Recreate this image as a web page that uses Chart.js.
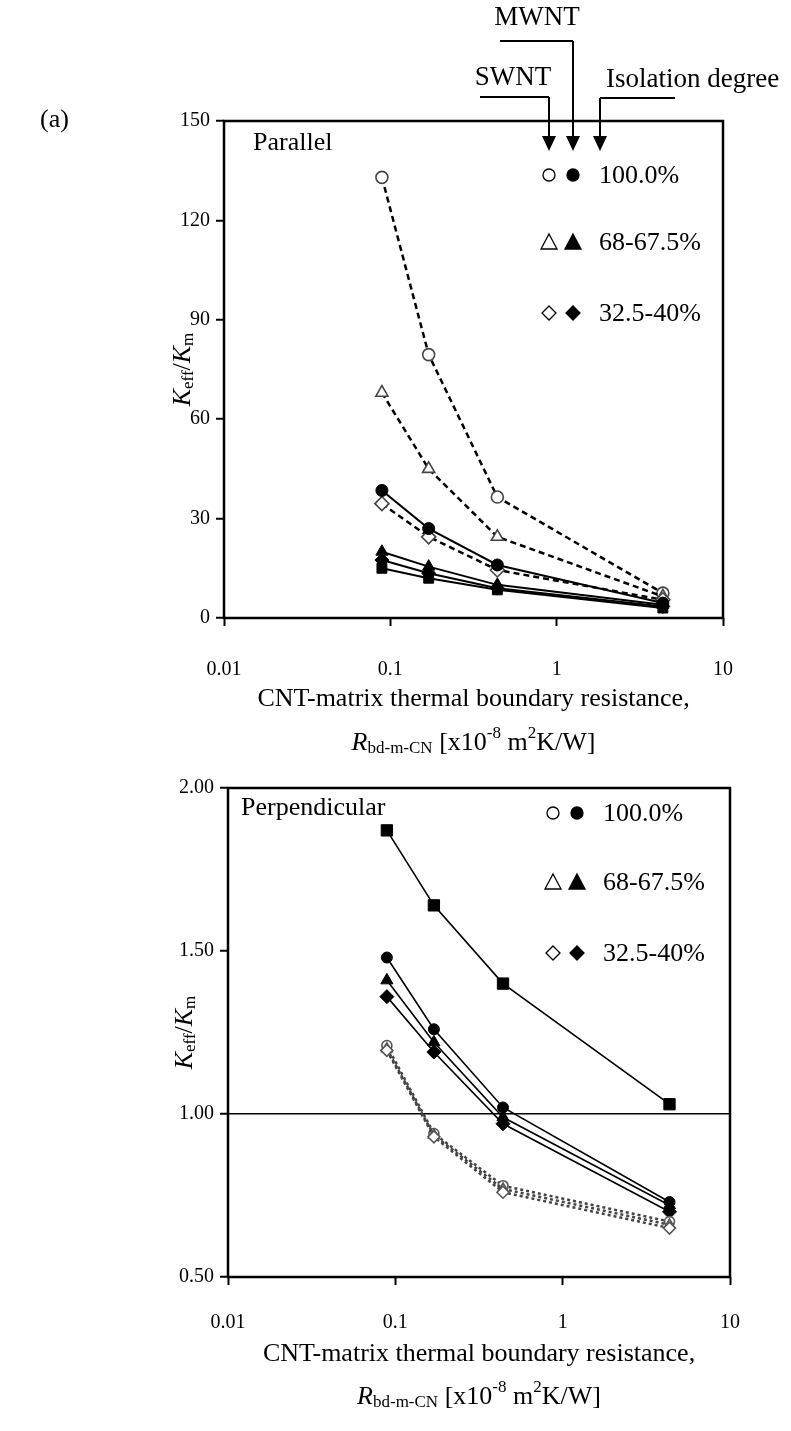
<!DOCTYPE html>
<html>
<head>
<meta charset="utf-8">
<script src="https://cdn.jsdelivr.net/npm/chart.js@4.4.0/dist/chart.umd.min.js"></script>
<style>
  body { margin: 0; background: #fff; }
  #wrap { position: relative; width: 791px; height: 1431px; }
  canvas { position: absolute; left: 0; }
</style>
</head>
<body>
<div id="wrap">
  <canvas id="chTop" width="791" height="770" style="top:0;width:791px;height:770px"></canvas>
  <canvas id="chBot" width="791" height="661" style="top:770px;width:791px;height:661px"></canvas>
</div>
<script>
// thermal boundary resistance values (x10^-8 m2K/W)
var rValues = [0.089, 0.17, 0.44, 4.35];
var xTicks = [0.01, 0.1, 1, 10];
var xTickLabels = ['0.01', '0.1', '1', '10'];

// parallel
var parTicks = [0, 30, 60, 90, 120, 150];
var parTickLabels = ['0', '30', '60', '90', '120', '150'];
var parSwntCircle = [133, 79.5, 36.5, 7.5];
var parSwntTriangle = [68, 45, 24.5, 6.5];
var parSwntDiamond = [34.5, 24.5, 14.5, 5.5];
var parMwntCircle = [38.5, 27, 16, 4.5];
var parMwntTriangle = [20, 15.5, 10, 4];
var parMwntDiamond = [17.5, 13.5, 9, 3.5];
var parMwntSquare = [15, 12, 8.5, 3];

// perpendicular
var perTicks = [0.5, 1.0, 1.5, 2.0];
var perTickLabels = ['0.50', '1.00', '1.50', '2.00'];
var perMwntSquare = [1.87, 1.64, 1.40, 1.03];
var perMwntCircle = [1.48, 1.26, 1.02, 0.73];
var perMwntTriangle = [1.41, 1.22, 0.99, 0.72];
var perMwntDiamond = [1.36, 1.19, 0.97, 0.70];
var perSwntCircle = [1.21, 0.94, 0.78, 0.67];
var perSwntTriangle = [1.20, 0.935, 0.77, 0.66];
var perSwntDiamond = [1.195, 0.93, 0.76, 0.65];

var legendRows = ['100.0%', '68-67.5%', '32.5-40%'];

var SERIF = '"Liberation Serif", "Times New Roman", serif';

function pts(ys) {
  return ys.map(function (y, i) { return { x: rValues[i], y: y }; });
}

function series(ys, style, open, dashed, opt) {
  opt = opt || {};
  return {
    data: pts(ys),
    pointStyle: style,
    pointRadius: opt.r || 6,
    pointBorderWidth: open ? 1.6 : 1,
    pointBackgroundColor: open ? '#fff' : '#000',
    pointBorderColor: open ? (opt.mk || '#444') : '#000',
    borderColor: opt.line || '#000',
    borderWidth: opt.w || 2,
    borderDash: dashed ? (opt.dash || [6, 4]) : [],
    tension: 0,
    fill: false
  };
}

// rich text: parts = [[text, font, dy]]
function richWidth(ctx, parts) {
  var w = 0;
  parts.forEach(function (p) { ctx.font = p[1]; w += ctx.measureText(p[0]).width; });
  return w;
}
function drawRich(ctx, parts, x, y) {
  ctx.textBaseline = 'middle';
  ctx.textAlign = 'left';
  parts.forEach(function (p) {
    ctx.font = p[1];
    ctx.fillText(p[0], x, y + (p[2] || 0));
    x += ctx.measureText(p[0]).width;
  });
}
function drawRichCentered(ctx, parts, cx, cy) {
  drawRich(ctx, parts, cx - richWidth(ctx, parts) / 2, cy);
}

var yTitleParts = [
  ['K', 'italic 26px ' + SERIF, 0],
  ['eff', '17px ' + SERIF, 6],
  ['/', '26px ' + SERIF, 0],
  ['K', 'italic 26px ' + SERIF, 0],
  ['m', '17px ' + SERIF, 6]
];
var xTitle2Parts = [
  ['R', 'italic 26px ' + SERIF, 0],
  ['bd-m-CN', '17px ' + SERIF, 6],
  [' [x10', '26px ' + SERIF, 0],
  ['-8', '17px ' + SERIF, -9],
  [' m', '26px ' + SERIF, 0],
  ['2', '17px ' + SERIF, -9],
  ['K/W]', '26px ' + SERIF, 0]
];

function sym(ctx, kind, x, y, filled) {
  ctx.save();
  ctx.beginPath();
  if (kind === 'circle') {
    ctx.arc(x, y, 6, 0, Math.PI * 2);
  } else if (kind === 'triangle') {
    ctx.moveTo(x, y - 8); ctx.lineTo(x + 8, y + 7); ctx.lineTo(x - 8, y + 7); ctx.closePath();
  } else {
    ctx.moveTo(x, y - 7); ctx.lineTo(x + 7, y); ctx.lineTo(x, y + 7); ctx.lineTo(x - 7, y); ctx.closePath();
  }
  ctx.lineWidth = 1.3;
  ctx.strokeStyle = '#000';
  if (filled) { ctx.fillStyle = '#000'; ctx.fill(); }
  ctx.stroke();
  ctx.restore();
}

function drawLegend(ctx, xOpen, rowsY) {
  var kinds = ['circle', 'triangle', 'diamond'];
  rowsY.forEach(function (y, i) {
    sym(ctx, kinds[i], xOpen, y, false);
    sym(ctx, kinds[i], xOpen + 24, y, true);
    ctx.font = '26px ' + SERIF;
    ctx.fillStyle = '#000';
    ctx.textAlign = 'left';
    ctx.textBaseline = 'middle';
    ctx.fillText(legendRows[i], xOpen + 50, y + 1);
  });
}

function arrowDown(ctx, x, yTop, yTip) {
  ctx.beginPath();
  ctx.moveTo(x, yTop); ctx.lineTo(x, yTip - 14);
  ctx.stroke();
  ctx.beginPath();
  ctx.moveTo(x - 7, yTip - 15); ctx.lineTo(x + 7, yTip - 15); ctx.lineTo(x, yTip); ctx.closePath();
  ctx.fill();
}

function makeBox() {
  return {
    id: 'box',
    beforeDatasetsDraw: function (chart) {
      var a = chart.chartArea, ctx = chart.ctx;
      ctx.save();
      ctx.strokeStyle = '#000';
      ctx.lineWidth = 2.5;
      ctx.strokeRect(a.left, a.top, a.right - a.left, a.bottom - a.top);
      ctx.restore();
    }
  };
}

function makeTexts(cfg) {
  return {
    id: 'texts',
    afterDraw: function (chart) {
      var ctx = chart.ctx, a = chart.chartArea;
      ctx.save();
      ctx.fillStyle = '#000';
      ctx.strokeStyle = '#000';
      // y title
      ctx.save();
      ctx.translate(cfg.yTitleX, (a.top + a.bottom) / 2);
      ctx.rotate(-Math.PI / 2);
      drawRichCentered(ctx, yTitleParts, 0, 0);
      ctx.restore();
      // x title
      var cx = (a.left + a.right) / 2;
      ctx.font = '26px ' + SERIF;
      ctx.textAlign = 'center';
      ctx.textBaseline = 'middle';
      ctx.fillText('CNT-matrix thermal boundary resistance,', cx, cfg.xTitle1Y);
      drawRichCentered(ctx, xTitle2Parts, cx, cfg.xTitle2Y);
      // panel name
      ctx.font = '26px ' + SERIF;
      ctx.textAlign = 'left';
      ctx.fillText(cfg.name, cfg.nameX, cfg.nameY);
      drawLegend(ctx, cfg.legX, cfg.legY);
      if (cfg.extra) cfg.extra(ctx, a);
      ctx.restore();
    }
  };
}

function commonScales(yMin, yMax, yT, yL, yWidth, xHeight, xPad, oneLine) {
  return {
    x: {
      type: 'logarithmic',
      min: 0.01,
      max: 10,
      afterBuildTicks: function (s) { s.ticks = xTicks.map(function (v) { return { value: v }; }); },
      afterFit: function (s) { s.height = xHeight; },
      ticks: {
        autoSkip: false,
        maxRotation: 0,
        padding: xPad,
        color: '#000',
        font: { family: SERIF, size: 20 },
        callback: function (v, i) { return xTickLabels[i]; }
      },
      grid: { drawOnChartArea: false, drawTicks: true, tickLength: 8, tickColor: '#000', tickWidth: 2 },
      border: { display: false }
    },
    y: {
      type: 'linear',
      min: yMin,
      max: yMax,
      afterBuildTicks: function (s) { s.ticks = yT.map(function (v) { return { value: v }; }); },
      afterFit: function (s) { s.width = yWidth; },
      ticks: {
        padding: 6,
        color: '#000',
        font: { family: SERIF, size: 20 },
        callback: function (v, i) { return yL[i]; }
      },
      grid: {
        drawOnChartArea: !!oneLine,
        color: function (c) { return (oneLine && c.tick && c.tick.value === 1) ? '#000' : 'rgba(0,0,0,0)'; },
        lineWidth: 1.5,
        drawTicks: true,
        tickLength: 8,
        tickColor: '#000',
        tickWidth: 2
      },
      border: { display: false }
    }
  };
}

var baseOptions = {
  responsive: false,
  animation: false,
  events: [],
  plugins: { legend: { display: false }, tooltip: { enabled: false } }
};

// ---------- parallel ----------
new Chart(document.getElementById('chTop'), {
  type: 'line',
  data: {
    datasets: [
      series(parMwntSquare, 'rect', false, false, { r: 7 }),
      series(parMwntDiamond, 'rectRot', false, false, { r: 7 }),
      series(parMwntTriangle, 'triangle', false, false, { r: 7 }),
      series(parMwntCircle, 'circle', false, false, { r: 6 }),
      series(parSwntDiamond, 'rectRot', true, true, { r: 7, w: 2.5 }),
      series(parSwntTriangle, 'triangle', true, true, { r: 7, w: 2.5 }),
      series(parSwntCircle, 'circle', true, true, { r: 6, w: 2.5 })
    ]
  },
  options: Object.assign({}, baseOptions, {
    layout: { padding: { left: 0, top: 121, right: 68, bottom: 0 } },
    scales: commonScales(0, 150, parTicks, parTickLabels, 224, 152, 32, false)
  }),
  plugins: [makeBox(), makeTexts({
    yTitleX: 183, xTitle1Y: 699, xTitle2Y: 743,
    name: 'Parallel', nameX: 253, nameY: 143,
    legX: 549, legY: [175, 242, 313],
    extra: function (ctx) {
      ctx.font = '26px ' + SERIF;
      ctx.textAlign = 'left';
      ctx.textBaseline = 'middle';
      ctx.fillText('(a)', 40, 120);
      ctx.font = '27px ' + SERIF;
      ctx.textAlign = 'center';
      ctx.fillText('MWNT', 537, 18);
      ctx.fillText('SWNT', 513, 78);
      ctx.textAlign = 'left';
      ctx.fillText('Isolation degree', 606, 80);
      ctx.lineWidth = 2;
      // leader lines
      ctx.beginPath();
      ctx.moveTo(500, 41); ctx.lineTo(573, 41);
      ctx.moveTo(480, 97); ctx.lineTo(549, 97);
      ctx.moveTo(600, 98); ctx.lineTo(675, 98);
      ctx.stroke();
      arrowDown(ctx, 573, 41, 151);
      arrowDown(ctx, 549, 97, 151);
      arrowDown(ctx, 600, 98, 151);
    }
  })]
});

// ---------- perpendicular ----------
new Chart(document.getElementById('chBot'), {
  type: 'line',
  data: {
    datasets: [
      series(perSwntDiamond, 'rectRot', true, true, { r: 6, w: 2.5, line: '#444', mk: '#555', dash: [3, 3] }),
      series(perSwntTriangle, 'triangle', true, true, { r: 6, w: 2.5, line: '#444', mk: '#555', dash: [3, 3] }),
      series(perSwntCircle, 'circle', true, true, { r: 5, w: 2.5, line: '#444', mk: '#555', dash: [3, 3] }),
      series(perMwntDiamond, 'rectRot', false, false, { r: 7, w: 1.6 }),
      series(perMwntTriangle, 'triangle', false, false, { r: 7, w: 1.6 }),
      series(perMwntCircle, 'circle', false, false, { r: 5.5, w: 1.6 }),
      series(perMwntSquare, 'rect', false, false, { r: 8, w: 1.6 })
    ]
  },
  options: Object.assign({}, baseOptions, {
    layout: { padding: { left: 0, top: 14, right: 61, bottom: 0 } },
    scales: commonScales(0.5, 2.0, perTicks, perTickLabels, 228, 154, 26, true)
  }),
  plugins: [makeBox(), makeTexts({
    yTitleX: 185, xTitle1Y: 584, xTitle2Y: 627,
    name: 'Perpendicular', nameX: 241, nameY: 38,
    legX: 553, legY: [43, 112, 183]
  })]
});
</script>
</body>
</html>
